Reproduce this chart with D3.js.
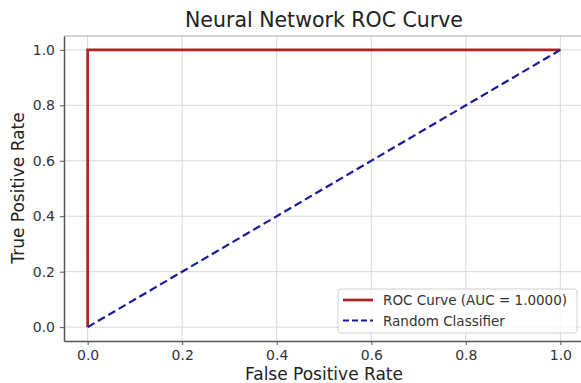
<!DOCTYPE html>
<html>
<head>
<meta charset="utf-8">
<script src="https://cdn.jsdelivr.net/npm/d3@7"></script>
<style>
  body { margin: 0; background: #fff; }
  svg { display: block; font-family: "DejaVu Sans", sans-serif; }
</style>
</head>
<body>
<svg id="chart" width="581" height="383"></svg>
<script>
// ROC curve points
const rocFpr = [0, 0, 1];
const rocTpr = [0, 1, 1];
// random classifier diagonal
const randFpr = [0, 1];
const randTpr = [0, 1];
const tickValues = [0, 0.2, 0.4, 0.6, 0.8, 1.0];
const legendLabels = ['ROC Curve (AUC = 1.0000)', 'Random Classifier'];

const svg = d3.select('#chart');
const plotL = 64, plotR = 584, plotT = 36, plotB = 341;

const x = d3.scaleLinear().domain([-0.05, 1.05]).range([plotL, plotR]);
const y = d3.scaleLinear().domain([-0.05, 1.05]).range([plotB, plotT]);

// grid
svg.append('g').selectAll('line').data(tickValues).join('line')
    .attr('x1', d => x(d)).attr('x2', d => x(d))
    .attr('y1', plotT).attr('y2', plotB)
    .attr('stroke', '#d9d9d9').attr('stroke-width', 1);
svg.append('g').selectAll('line').data(tickValues).join('line')
    .attr('y1', d => y(d)).attr('y2', d => y(d))
    .attr('x1', plotL).attr('x2', plotR)
    .attr('stroke', '#d9d9d9').attr('stroke-width', 1);

// top spine (light)
svg.append('line').attr('x1', plotL).attr('x2', plotR).attr('y1', plotT).attr('y2', plotT)
    .attr('stroke', '#aaaaaa').attr('stroke-width', 1);

// lines
const line = d3.line().x(d => x(d[0])).y(d => y(d[1]));
svg.append('path')
    .datum(rocFpr.map((f, i) => [f, rocTpr[i]]))
    .attr('d', line).attr('fill', 'none')
    .attr('stroke', '#b22222').attr('stroke-width', 2.7);
svg.append('path')
    .datum(randFpr.map((f, i) => [f, randTpr[i]]))
    .attr('d', line).attr('fill', 'none')
    .attr('stroke', '#1a1a9a').attr('stroke-width', 2.2)
    .attr('stroke-dasharray', '8,4');

// axes
const xAxis = svg.append('g').attr('transform', `translate(0,${plotB})`)
    .call(d3.axisBottom(x).tickValues(tickValues).tickFormat(d3.format('.1f')).tickSize(4).tickSizeOuter(0).tickPadding(5));
const yAxis = svg.append('g').attr('transform', `translate(${plotL},0)`)
    .call(d3.axisLeft(y).tickValues(tickValues).tickFormat(d3.format('.1f')).tickSize(4).tickSizeOuter(0).tickPadding(5));
[xAxis, yAxis].forEach(a => {
  a.select('.domain').attr('stroke', '#555').attr('stroke-width', 1.5);
  a.selectAll('.tick line').attr('stroke', '#555');
  a.selectAll('.tick text').attr('fill', '#333').style('font-size', '14px')
      .style('font-family', '"DejaVu Sans", sans-serif');
});

// title and labels
svg.append('text').attr('x', 324).attr('y', 27).attr('text-anchor', 'middle')
    .attr('fill', '#222').style('font-size', '20.5px').text('Neural Network ROC Curve');
svg.append('text').attr('x', 324).attr('y', 380).attr('text-anchor', 'middle')
    .attr('fill', '#222').style('font-size', '17px').text('False Positive Rate');
svg.append('text').attr('transform', 'translate(24,188) rotate(-90)').attr('text-anchor', 'middle')
    .attr('fill', '#222').style('font-size', '17px').text('True Positive Rate');

// legend
const lg = svg.append('g').attr('transform', 'translate(338,289)');
lg.append('rect').attr('width', 239).attr('height', 44).attr('rx', 3)
    .attr('fill', 'rgba(255,255,255,0.8)').attr('stroke', '#d0d0d0');
const styles = [
  { stroke: '#b22222', w: 2.7, dash: null },
  { stroke: '#1a1a9a', w: 2.2, dash: '6,3' }
];
legendLabels.forEach((t, i) => {
  const yy = 11 + i * 20.5;
  lg.append('line').attr('x1', 5).attr('x2', 35).attr('y1', yy).attr('y2', yy)
      .attr('stroke', styles[i].stroke).attr('stroke-width', styles[i].w)
      .attr('stroke-dasharray', styles[i].dash);
  lg.append('text').attr('x', 45).attr('y', yy + 5).attr('fill', '#333')
      .style('font-size', '13.5px').text(t);
});
</script>
</body>
</html>
